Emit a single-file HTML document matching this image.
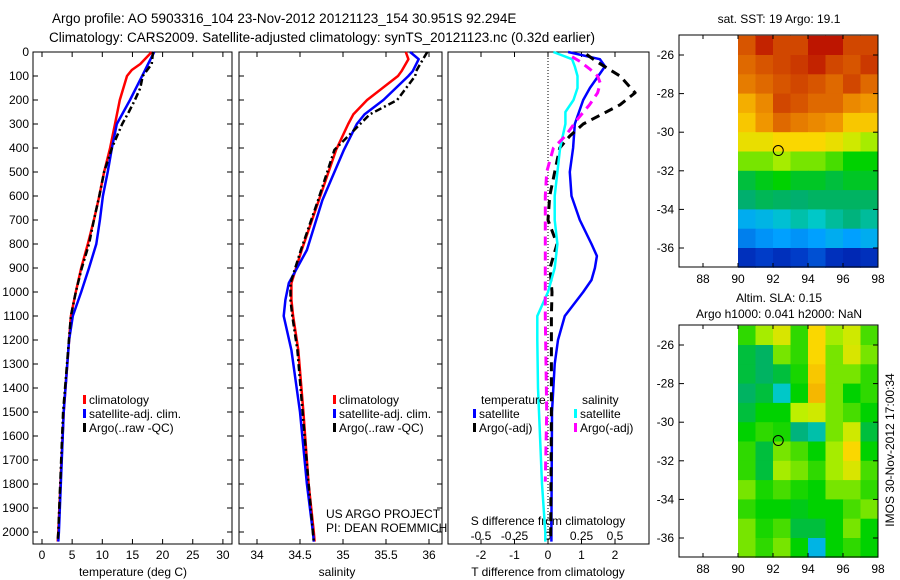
<!DOCTYPE html>
<html><head><meta charset="utf-8"><style>
body{margin:0;background:#fff;}
svg{display:block;font-family:"Liberation Sans",sans-serif;}
text{fill:#000;}
</style></head><body>
<svg id="fig" width="900" height="580" viewBox="0 0 900 580">
<g font-size="13.5">
<text x="52" y="23">Argo profile: AO 5903316_104 23-Nov-2012 20121123_154 30.951S 92.294E</text>
<text x="49" y="42">Climatology: CARS2009. Satellite-adjusted climatology: synTS_20121123.nc (0.32d earlier)</text>
</g>
<g id="plots"></g>
</svg>
<script>
// ---- data ----
const depthT = [0,50,75,100,200,300,400,500,600,700,800,900,1000,1100,1200,1500,2000,2040];
const tempClim = [18.2,16.3,14.9,14.1,12.9,12.1,11.3,10.3,9.5,8.6,7.6,6.5,5.6,4.8,4.5,3.6,2.7,2.6];
const tempSat = [18.6,17.6,17.1,16.6,14.6,12.4,11.6,10.9,10.1,9.6,9.0,7.8,6.5,5.1,4.5,3.6,2.8,2.7];
const depthArgo = [0,50,100,150,200,250,300,400,500,600,700,800,900,1000,1100,1500,2000,2040];
const tempArgo = [18.4,18.2,16.7,16.3,15.4,14.4,13.3,11.6,10.3,9.5,8.6,7.8,6.6,5.6,4.8,3.5,2.7,2.6];
const depthS = [0,30,80,100,200,260,300,408,617,825,963,1033,1100,1242,1500,1800,2000,2040];
const salClim = [35.73,35.76,35.68,35.64,35.28,35.12,35.06,34.92,34.72,34.52,34.40,34.40,34.42,34.48,34.54,34.6,34.66,34.67];
const salSat = [35.78,35.88,35.81,35.76,35.47,35.25,35.16,35.01,34.76,34.58,34.37,34.33,34.31,34.40,34.5,34.58,34.65,34.66];
const salArgo = [35.98,35.93,35.85,35.84,35.63,35.31,35.2,34.90,34.71,34.51,34.39,34.39,34.41,34.47,34.53,34.6,34.65,34.66];
const depthD = [0,30,60,100,150,200,300,400,500,600,700,800,850,900,950,1000,1100,1200,1300,1500,2000,2040];
const dTsat = [0.6,1.55,1.7,1.5,1.25,1.05,0.8,0.75,0.65,0.7,0.95,1.3,1.46,1.4,1.3,1.05,0.5,0.3,0.2,0.12,0.1,0.1];
const depthDA = [10,40,100,170,220,300,350,400,500,600,700,800,900,1000,1100,1500,2000,2040];
const dTargo = [1.15,1.45,2.15,2.6,2.15,1.05,0.65,0.35,0.2,0.05,0.0,0.27,0.06,0.12,0.1,0.1,0.08,0.08];
const depthDS = [0,30,60,100,150,200,250,300,400,500,600,700,800,900,1000,1100,1200,1400,1600,1800,2000,2040];
const dSsat = [0.04,0.18,0.2,0.22,0.22,0.19,0.13,0.13,0.09,0.07,0.05,0.05,0.07,0.05,0.0,-0.08,-0.08,-0.075,-0.06,-0.045,-0.02,-0.02];
const depthDSA = [20,40,70,100,130,170,220,280,350,400,500,600,900,1100,1500,1790];
const dSargo = [0.18,0.24,0.31,0.37,0.39,0.37,0.31,0.22,0.13,0.04,-0.01,-0.02,-0.02,-0.02,-0.01,-0.02];
const depthTicks = [0,100,200,300,400,500,600,700,800,900,1000,1100,1200,1300,1400,1500,1600,1700,1800,1900,2000];
const tTicks = [0,5,10,15,20,25,30];
const sTicks = [34,34.5,35,35.5,36];
const dtTicks = [-2,-1,0,1,2];
const dsTicks = [-0.5,-0.25,0,0.25,0.5];
const dsTickLabels = ["-0.5","-0.25","0","0.25","0.5"];
const latTicks = [-26,-28,-30,-32,-34,-36];
const lonTicks = [88,90,92,94,96,98];
const sstGrid = [
[0.88,0.95,0.9,0.9,0.97,0.97,0.9,0.9],
[0.85,0.88,0.9,0.92,0.95,0.9,0.88,0.92],
[0.82,0.85,0.88,0.9,0.88,0.85,0.9,0.85],
[0.75,0.8,0.9,0.88,0.85,0.85,0.8,0.78],
[0.72,0.78,0.85,0.82,0.8,0.78,0.72,0.72],
[0.68,0.68,0.7,0.7,0.7,0.68,0.65,0.62],
[0.6,0.6,0.62,0.6,0.6,0.58,0.55,0.55],
[0.5,0.53,0.55,0.52,0.52,0.5,0.52,0.52],
[0.46,0.48,0.47,0.46,0.47,0.47,0.47,0.47],
[0.33,0.35,0.38,0.42,0.4,0.43,0.45,0.43],
[0.25,0.28,0.3,0.28,0.3,0.33,0.3,0.33],
[0.12,0.15,0.12,0.15,0.18,0.12,0.1,0.12]];
const slaGrid = [
[0.57,0.62,0.66,0.57,0.7,0.62,0.65,0.58],
[0.5,0.47,0.6,0.57,0.7,0.6,0.66,0.6],
[0.5,0.47,0.5,0.56,0.72,0.6,0.6,0.57],
[0.47,0.5,0.4,0.55,0.74,0.6,0.55,0.57],
[0.5,0.55,0.55,0.63,0.65,0.6,0.58,0.55],
[0.55,0.57,0.56,0.45,0.42,0.6,0.65,0.5],
[0.57,0.5,0.6,0.58,0.55,0.62,0.7,0.55],
[0.57,0.5,0.62,0.6,0.57,0.62,0.66,0.58],
[0.6,0.56,0.58,0.56,0.55,0.6,0.6,0.57],
[0.57,0.55,0.55,0.53,0.55,0.55,0.58,0.6],
[0.6,0.56,0.58,0.5,0.5,0.55,0.6,0.55],
[0.6,0.57,0.6,0.55,0.35,0.55,0.57,0.55]];
const argoPos = [92.3,-30.95];

const NS='http://www.w3.org/2000/svg';
const root=document.getElementById('plots');
function mk(tag,attrs,parent){const e=document.createElementNS(NS,tag);for(const k in attrs)e.setAttribute(k,attrs[k]);(parent||root).appendChild(e);return e;}
function txt(x,y,s,size,anchor,parent){const t=mk('text',{x:x,y:y,'font-size':size||12,'text-anchor':anchor||'start'},parent);t.textContent=s;return t;}

const Y0=52,YK=0.24,DMAX=2050;
const yD=d=>Y0+d*YK;
const YB=yD(DMAX);
function frame(x0,x1,y0,y1,name){const r=mk('rect',{x:x0,y:y0,width:x1-x0,height:y1-y0,fill:'none',stroke:'#000','stroke-width':1});}
function line(xs,ds,sx,color,w,dash,name){
  let p='';for(let i=0;i<xs.length;i++)p+=(i?'L':'M')+sx(xs[i]).toFixed(1)+','+yD(ds[i]).toFixed(1);
  const a={d:p,fill:'none',stroke:color,'stroke-width':w,'stroke-linejoin':'round'};if(dash)a['stroke-dasharray']=dash;
  const e=mk('path',a);}
function xticks(vals,sx,y0,y1){vals.forEach(v=>{const x=sx(v);mk('line',{x1:x,x2:x,y1:y0,y2:y0+5,stroke:'#000'});mk('line',{x1:x,x2:x,y1:y1,y2:y1-5,stroke:'#000'});});}
function yticks(x0,x1){depthTicks.forEach(d=>{const y=yD(d);mk('line',{x1:x0,x2:x0+5,y1:y,y2:y,stroke:'#000'});mk('line',{x1:x1,x2:x1-5,y1:y,y2:y,stroke:'#000'});});}
function legItem(x,y,color,label,name){const r=mk('rect',{x:x,y:y-9,width:3,height:9,fill:color});const t=txt(x+6,y,label,12);}

// Panel 1 temperature
const sxT=t=>42+6.03*t;
frame(33,232,Y0,YB,'temperature-panel-frame');
xticks(tTicks,sxT,Y0,YB);yticks(33,232);
depthTicks.forEach(d=>{const t=txt(29,yD(d)+4,String(d),12,'end');});
tTicks.forEach(v=>{const t=txt(sxT(v),559,String(v),12,'middle');});
txt(133,576,'temperature (deg C)',12,'middle');
line(tempClim,depthT,sxT,'#f00',2.5,null,'temperature-climatology-line');
line(tempSat,depthT,sxT,'#00f',2.5,null,'temperature-satellite-line');
line(tempArgo,depthArgo,sxT,'#000',2.5,'7,3,2,3','temperature-argo-line');
legItem(83,404,'#f00','climatology','legend-climatology');
legItem(83,418,'#00f','satellite-adj. clim.','legend-satellite-adj');
legItem(83,432,'#000','Argo(..raw -QC)','legend-argo');

// Panel 2 salinity
const sxS=s=>257+86*(s-34);
frame(239,442,Y0,YB,'salinity-panel-frame');
xticks(sTicks,sxS,Y0,YB);yticks(239,442);
sTicks.forEach(v=>{const t=txt(sxS(v),559,String(v),12,'middle');});
txt(337,576,'salinity',12,'middle');
line(salClim,depthS,sxS,'#f00',2.5,null,'salinity-climatology-line');
line(salSat,depthS,sxS,'#00f',2.5,null,'salinity-satellite-line');
line(salArgo,depthS,sxS,'#000',2.5,'7,3,2,3','salinity-argo-line');
legItem(333,404,'#f00','climatology','legend-sal-climatology');
legItem(333,418,'#00f','satellite-adj. clim.','legend-sal-satellite-adj');
legItem(333,432,'#000','Argo(..raw -QC)','legend-sal-argo');
txt(326,518,'US ARGO PROJECT',12);
txt(326,532,'PI: DEAN ROEMMICH',12);

// Panel 3 differences
const sxDT=v=>548+33.5*v, sxDS=v=>548+134*v;
frame(448,649,Y0,YB,'difference-panel-frame');
dtTicks.forEach(v=>{const x=sxDT(v);mk('line',{x1:x,x2:x,y1:Y0,y2:Y0+5,stroke:'#000'});mk('line',{x1:x,x2:x,y1:YB,y2:YB-5,stroke:'#000'});});
mk('line',{x1:sxDT(0),x2:sxDT(0),y1:Y0,y2:YB,stroke:'#000','stroke-dasharray':'1,2'});
dtTicks.forEach(v=>{const t=txt(sxDT(v),559,String(v),12,'middle');});
dsTicks.forEach((v,i)=>{const t=txt(sxDS(v),540,dsTickLabels[i],12,'middle');});
txt(548,525,'S difference from climatology',12,'middle');
txt(548,576,'T difference from climatology',12,'middle');
line(dTsat,depthD,sxDT,'#00f',2.5,null,'t-diff-satellite-line');
line(dTargo,depthDA,sxDT,'#000',3,'9,6','t-diff-argo-line');
line(dSsat,depthDS,sxDS,'#0ff',2.5,null,'s-diff-satellite-line');
line(dSargo,depthDSA,sxDS,'#f0f',3,'9,6','s-diff-argo-line');
txt(481,404,'temperature',12);
legItem(473,418,'#00f','satellite','legend-t-satellite');
legItem(473,432,'#000','Argo(-adj)','legend-t-argo');
txt(582,404,'salinity',12);
legItem(574,418,'#0ff','satellite','legend-s-satellite');
legItem(574,432,'#f0f','Argo(-adj)','legend-s-argo');

// maps
const stops=[[0,[0,0,140]],[0.15,[0,60,200]],[0.3,[0,160,255]],[0.4,[0,200,200]],[0.46,[0,175,110]],[0.55,[0,210,0]],[0.63,[190,240,0]],[0.7,[250,215,0]],[0.78,[240,150,0]],[0.88,[215,85,0]],[1,[180,0,0]]];
function cmap(v){for(let i=1;i<stops.length;i++){if(v<=stops[i][0]){const a=stops[i-1],b=stops[i],f=(v-a[0])/(b[0]-a[0]);return 'rgb('+a[1].map((c,k)=>Math.round(c+(b[1][k]-c)*f)).join(',')+')';}}return 'rgb(180,0,0)';}
function drawMap(oy,grid,name){
  const sxL=l=>738+(l-90)*17.5, syL=l=>oy+55+(-26-l)*19.3;
  const g=mk('g',{});
  grid.forEach((row,r)=>row.forEach((v,c)=>{const x0=sxL(90+c),x1=sxL(91+c),y0=syL(-25-r),y1=syL(-26-r);
    const cell=mk('rect',{x:x0,y:y0,width:x1-x0+0.5,height:y1-y0+0.5,fill:cmap(v)},g);
    
    }));
  const fy0=oy+35,fy1=oy+267;
  frame(679,878,fy0,fy1,name+'-frame');
  latTicks.forEach(l=>{const y=syL(l);mk('line',{x1:679,x2:684,y1:y,y2:y,stroke:'#000'});mk('line',{x1:878,x2:873,y1:y,y2:y,stroke:'#000'});
    const t=txt(674,y+4,String(l),12,'end');});
  lonTicks.forEach(l=>{const x=sxL(l);mk('line',{x1:x,x2:x,y1:fy0,y2:fy0+4,stroke:'#000'});mk('line',{x1:x,x2:x,y1:fy1,y2:fy1-4,stroke:'#000'});
    const t=txt(x,fy1+16,String(l),12,'middle');});
  const c=mk('circle',{cx:sxL(argoPos[0]),cy:syL(argoPos[1]),r:5,fill:'none',stroke:'#000','stroke-width':1});
  
}
drawMap(0,sstGrid,'sst-map');
drawMap(290,slaGrid,'sla-map');
txt(779,23,'sat. SST: 19 Argo: 19.1',12,'middle');
txt(779,302,'Altim. SLA: 0.15',12,'middle');
txt(779,318,'Argo h1000: 0.041 h2000: NaN',12,'middle');
const stamp=txt(0,0,'IMOS 30-Nov-2012 17:00:34',12,'middle');
stamp.setAttribute('transform','translate(894,450) rotate(-90)');


</script>
</body></html>
